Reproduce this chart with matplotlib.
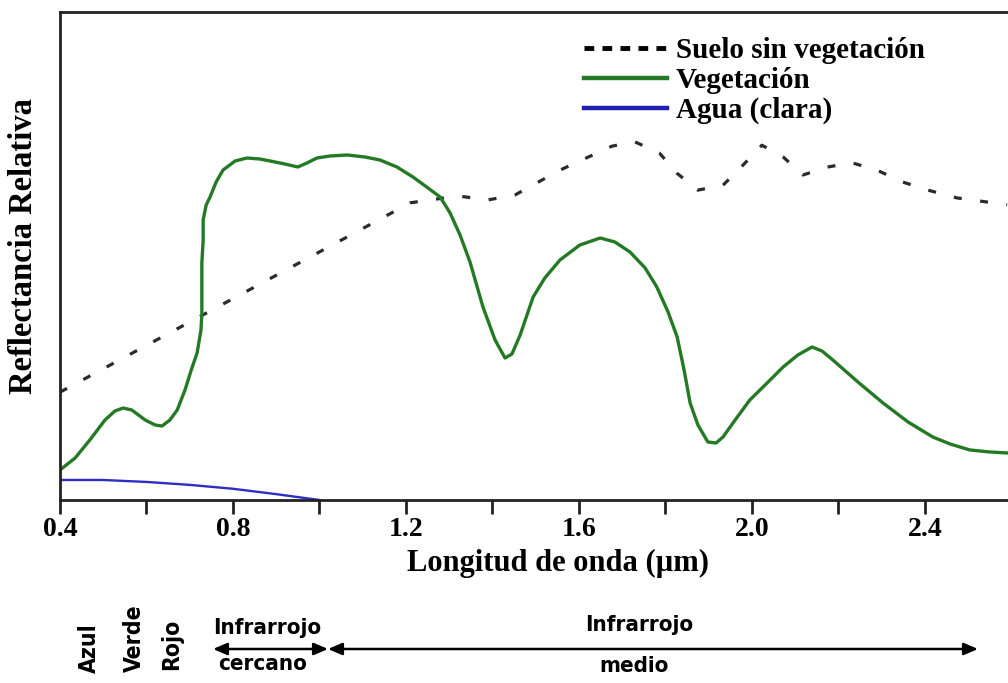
import matplotlib
matplotlib.use("Agg")
import matplotlib.pyplot as plt
from matplotlib.lines import Line2D
from matplotlib.patches import FancyArrowPatch

# ---- data (wavelength in µm, relative reflectance 0-100) ----
veg_x = [0.400, 0.435, 0.469, 0.504, 0.527, 0.546, 0.566, 0.597, 0.620, 0.636, 0.654, 0.671,
         0.689, 0.705, 0.717, 0.726, 0.728, 0.728, 0.728, 0.731, 0.731, 0.738, 0.747, 0.761,
         0.777, 0.805, 0.832, 0.862, 0.886, 0.920, 0.950, 0.971, 0.994, 1.024, 1.064, 1.105,
         1.140, 1.179, 1.216, 1.251, 1.279, 1.302, 1.325, 1.348, 1.378, 1.406, 1.429, 1.445,
         1.464, 1.494, 1.521, 1.556, 1.602, 1.649, 1.683, 1.718, 1.753, 1.780, 1.806, 1.827,
         1.843, 1.857, 1.875, 1.898, 1.917, 1.933, 1.961, 1.995, 2.035, 2.072, 2.106, 2.139,
         2.162, 2.187, 2.245, 2.303, 2.361, 2.418, 2.458, 2.504, 2.550, 2.592]
veg_y = [6.15, 8.61, 12.30, 16.39, 18.24, 18.85, 18.44, 16.39, 15.37, 15.16, 16.39, 18.44,
         22.54, 27.05, 30.12, 34.84, 38.32, 43.03, 48.57, 53.28, 57.38, 60.45, 62.09, 65.16,
         67.62, 69.47, 70.08, 69.88, 69.47, 68.85, 68.24, 69.06, 70.08, 70.49, 70.70, 70.29,
         69.67, 68.24, 66.19, 63.93, 62.09, 58.81, 54.30, 48.77, 39.55, 32.79, 29.10, 29.92,
         33.81, 41.60, 45.49, 49.18, 52.25, 53.69, 52.87, 50.82, 47.54, 43.65, 38.52, 33.40,
         26.64, 19.88, 15.37, 11.89, 11.68, 12.91, 16.39, 20.49, 23.98, 27.25, 29.71, 31.35,
         30.53, 28.69, 24.18, 19.88, 15.98, 12.91, 11.48, 10.25, 9.84, 9.63]

soil_x = [0.40, 1.21, 1.32, 1.39, 1.452, 1.556, 1.676, 1.729, 1.786, 1.826, 1.875, 1.933,
          1.979, 2.023, 2.072, 2.118, 2.173, 2.231, 2.289, 2.347, 2.407, 2.474, 2.59]
soil_y = [22.1, 60.9, 62.3, 61.5, 62.5, 67.6, 72.5, 73.4, 71.1, 67.0, 63.5, 64.5,
          68.6, 72.7, 70.3, 66.6, 68.2, 69.1, 67.6, 65.2, 63.5, 61.9, 60.5]

water_x = [0.40, 0.50, 0.60, 0.70, 0.80, 0.90, 1.00]
water_y = [4.1, 4.1, 3.7, 3.1, 2.3, 1.2, 0.0]

major_ticks = [0.4, 0.8, 1.2, 1.6, 2.0, 2.4]
major_labels = ["0.4", "0.8", "1.2", "1.6", "2.0", "2.4"]
minor_ticks = [0.6, 1.0, 1.4, 1.8, 2.2]

legend_labels = ["Suelo sin vegetación", "Vegetación", "Agua (clara)"]
band_labels = ["Azul", "Verde", "Rojo"]

# ---- figure ----
W, H = 1008, 683
fig = plt.figure(figsize=(W / 100, H / 100), dpi=100)
ax = fig.add_axes([60 / W, (H - 500) / H, (W - 60) / W, 488 / H])

serif = ["Liberation Serif", "DejaVu Serif"]
sans = ["DejaVu Sans"]

ax.plot(soil_x, soil_y, color="#2b2b2b", lw=2.3, dashes=(2.5, 5.8),
        dash_capstyle="butt")
ax.plot(veg_x, veg_y, color="#247a24", lw=2.4, solid_joinstyle="round",
        solid_capstyle="round")
ax.plot(water_x, water_y, color="#2e2ec4", lw=1.7)

ax.set_xlim(0.4, 2.592)
ax.set_ylim(0, 100)
ax.set_yticks([])
ax.set_xticks(major_ticks)
ax.set_xticklabels(major_labels, fontfamily=serif, fontweight="bold", fontsize=20)
ax.set_xticks(minor_ticks, minor=True)
ax.tick_params(axis="x", which="both", direction="out", length=10, width=2.0, pad=2,
               color="#222222")
for s in ["left", "top", "bottom"]:
    ax.spines[s].set_linewidth(2.0)
    ax.spines[s].set_color("#222222")
ax.spines["right"].set_visible(False)

fig.text(558 / W, 1 - 563 / H, "Longitud de onda (µm)", ha="center", va="center",
         fontfamily=serif, fontweight="bold", fontsize=22)
fig.text(24 / W, 1 - 246 / H, "Reflectancia Relativa", ha="center", va="center",
         rotation=90, fontfamily=serif, fontweight="bold", fontsize=23.5)

handles = [
    Line2D([0], [0], color="black", lw=3.5, dashes=(2.0, 1.7)),
    Line2D([0], [0], color="#247a24", lw=3.2),
    Line2D([0], [0], color="#1f1fb0", lw=3.2),
]
ax.legend(handles, legend_labels, loc="upper left",
          bbox_to_anchor=((584 - 60) / (W - 60), (500 - 37) / 488),
          frameon=False, handlelength=2.85, handletextpad=0.3,
          labelspacing=0.1, borderaxespad=0, borderpad=0,
          prop={"family": serif, "weight": "bold", "size": 21})

# ---- spectral band annotations below the axis ----
band_x = [89, 134, 172]
band_y = [648, 638, 644]
for bx, by, lab in zip(band_x, band_y, band_labels):
    fig.text(bx / W, 1 - by / H, lab, rotation=90, ha="center", va="center",
             fontfamily=sans, fontstretch="condensed", fontweight="bold", fontsize=16.5)

fig.text(267 / W, 1 - 628 / H, "Infrarrojo", ha="center", va="center",
         fontfamily=sans, fontstretch="condensed", fontweight="bold", fontsize=16)
fig.text(263 / W, 1 - 664 / H, "cercano", ha="center", va="center",
         fontfamily=sans, fontstretch="condensed", fontweight="bold", fontsize=16)
fig.text(639 / W, 1 - 625 / H, "Infrarrojo", ha="center", va="center",
         fontfamily=sans, fontstretch="condensed", fontweight="bold", fontsize=16)
fig.text(634 / W, 1 - 666 / H, "medio", ha="center", va="center",
         fontfamily=sans, fontstretch="condensed", fontweight="bold", fontsize=16)

ay = H - 649
for x0, x1 in [(213, 328), (328, 978)]:
    fig.add_artist(FancyArrowPatch(
        (x0 / W, ay / H), (x1 / W, ay / H), transform=fig.transFigure,
        arrowstyle="<|-|>,head_length=0.7,head_width=0.3", lw=1.8, color="black",
        shrinkA=0, shrinkB=0, mutation_scale=12))

fig.savefig("out.png", dpi=100, facecolor="white")
